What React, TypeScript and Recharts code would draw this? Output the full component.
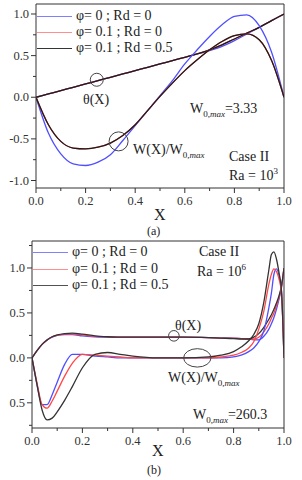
import React from 'react';
import { LineChart, Line, XAxis, YAxis, ReferenceLine, ReferenceDot } from 'recharts';

const serif = '"Liberation Serif", "Times New Roman", "DejaVu Serif", serif';

const legendNames = ['φ= 0 ; Rd = 0', 'φ= 0.1 ; Rd = 0', 'φ= 0.1 ; Rd = 0.5'];
const lineColors = ['#4f4fff', '#ff4747', '#1c1c1c'];
const lineColorsB = ['#4f4fff', '#ff4747', '#333333'];

const xTicks = [0, 0.1, 0.2, 0.3, 0.4, 0.5, 0.6, 0.7, 0.8, 0.9, 1.0];
const xMajor = [0, 0.2, 0.4, 0.6, 0.8, 1.0];
const yTicksA = [-1, -0.75, -0.5, -0.25, 0, 0.25, 0.5, 0.75, 1];
const yMajorA = [-1, -0.5, 0, 0.5, 1];
const yTicksB = [-0.75, -0.5, -0.25, 0, 0.25, 0.5, 0.75, 1, 1.25];
const yMajorB = [-0.5, 0, 0.5, 1];

// panel (a), Ra = 10^3
const xA = [0, 0.05, 0.1, 0.15, 0.2, 0.25, 0.3, 0.35, 0.4, 0.45, 0.5, 0.55, 0.6, 0.65, 0.7, 0.75, 0.8, 0.85, 0.9, 0.95, 1.0];
const thetaBlueA = [0, 0.04, 0.08, 0.12, 0.16, 0.2, 0.24, 0.28, 0.32, 0.36, 0.4, 0.44, 0.48, 0.52, 0.56, 0.61, 0.68, 0.76, 0.84, 0.92, 1.0];
const thetaRedA = [0, 0.04, 0.08, 0.12, 0.16, 0.2, 0.24, 0.28, 0.32, 0.36, 0.4, 0.44, 0.48, 0.52, 0.57, 0.63, 0.7, 0.77, 0.84, 0.92, 1.0];
const thetaBlackA = [0, 0.04, 0.08, 0.12, 0.16, 0.2, 0.24, 0.28, 0.32, 0.36, 0.4, 0.44, 0.48, 0.52, 0.57, 0.63, 0.7, 0.77, 0.84, 0.92, 1.0];
const wBlueA = [0, -0.43, -0.68, -0.8, -0.82, -0.78, -0.69, -0.52, -0.34, -0.16, 0.02, 0.2, 0.4, 0.57, 0.73, 0.87, 0.97, 0.99, 0.86, 0.54, 0];
const wRedA = [0, -0.33, -0.53, -0.61, -0.62, -0.6, -0.55, -0.46, -0.33, -0.16, 0.01, 0.17, 0.32, 0.45, 0.57, 0.67, 0.74, 0.76, 0.69, 0.44, 0];
const wBlackA = [0, -0.33, -0.53, -0.61, -0.62, -0.6, -0.55, -0.46, -0.33, -0.16, 0.01, 0.17, 0.32, 0.45, 0.57, 0.67, 0.74, 0.76, 0.69, 0.44, 0];

// panel (b), Ra = 10^6
const xB = [0, 0.02, 0.04, 0.06, 0.08, 0.1, 0.13, 0.16, 0.2, 0.25, 0.3, 0.35, 0.4, 0.5, 0.6, 0.7, 0.75, 0.8, 0.83, 0.86, 0.88, 0.9, 0.92, 0.94, 0.95, 0.96, 0.97, 0.98, 0.99, 1.0];
const thetaBlueB = [0, 0.08, 0.15, 0.2, 0.23, 0.25, 0.26, 0.26, 0.245, 0.235, 0.23, 0.23, 0.23, 0.23, 0.23, 0.225, 0.22, 0.22, 0.215, 0.21, 0.2, 0.2, 0.24, 0.32, 0.38, 0.45, 0.54, 0.65, 0.78, 1.0];
const thetaRedB = [0, 0.08, 0.15, 0.2, 0.235, 0.25, 0.265, 0.265, 0.255, 0.24, 0.235, 0.23, 0.23, 0.23, 0.23, 0.225, 0.22, 0.22, 0.215, 0.21, 0.21, 0.23, 0.29, 0.38, 0.44, 0.5, 0.58, 0.67, 0.79, 1.0];
const thetaBlackB = [0, 0.08, 0.15, 0.2, 0.235, 0.255, 0.27, 0.275, 0.265, 0.245, 0.235, 0.23, 0.23, 0.23, 0.23, 0.225, 0.22, 0.215, 0.21, 0.21, 0.23, 0.27, 0.34, 0.43, 0.48, 0.54, 0.61, 0.69, 0.8, 1.0];
const wBlueB = [0, -0.3, -0.52, -0.52, -0.41, -0.27, -0.07, 0.04, 0.04, 0.02, 0.01, 0, 0, 0, 0, 0, 0, 0.01, 0.03, 0.07, 0.11, 0.18, 0.3, 0.56, 0.72, 0.93, 0.99, 0.92, 0.74, 0];
const wRedB = [0, -0.28, -0.52, -0.56, -0.48, -0.37, -0.2, -0.06, 0.04, 0.03, 0.02, 0.01, 0, 0, 0, 0, 0.01, 0.03, 0.06, 0.11, 0.18, 0.32, 0.52, 0.82, 0.93, 0.99, 0.96, 0.88, 0.72, 0];
const wBlackB = [0, -0.3, -0.58, -0.69, -0.67, -0.6, -0.47, -0.32, -0.11, 0.04, 0.06, 0.04, 0.02, 0, 0, 0.01, 0.03, 0.07, 0.12, 0.19, 0.26, 0.38, 0.62, 0.98, 1.15, 1.18, 1.1, 0.95, 0.75, 0];

const dataA = xA.map((x, i) => ({
  x, tB: thetaBlueA[i], tR: thetaRedA[i], tK: thetaBlackA[i], wB: wBlueA[i], wR: wRedA[i], wK: wBlackA[i],
}));
const dataB = xB.map((x, i) => ({
  x, tB: thetaBlueB[i], tR: thetaRedB[i], tK: thetaBlackB[i], wB: wBlueB[i], wR: wRedB[i], wK: wBlackB[i],
}));

const near = (list: number[], v: number) => list.some((m) => Math.abs(m - v) < 1e-6);

const makeXTick = (props: any) => {
  const { x, y, payload } = props;
  const major = near(xMajor, payload.value);
  return (
    <g>
      <line x1={x} x2={x} y1={y} y2={y + (major ? 5 : 3)} stroke="#333" />
      {major && (
        <text x={x} y={y + 17} textAnchor="middle" fontSize={12.5} fontFamily={serif} fill="#333">
          {payload.value.toFixed(1)}
        </text>
      )}
    </g>
  );
};

const makeYTick = (majors: number[], fmt: (v: number) => string) => (props: any) => {
  const { x, y, payload } = props;
  const major = near(majors, payload.value);
  return (
    <g>
      <line x1={x - (major ? 5 : 3)} x2={x} y1={y} y2={y} stroke="#333" />
      {major && (
        <text x={x - 7} y={y + 4} textAnchor="end" fontSize={12.5} fontFamily={serif} fill="#333">
          {fmt(payload.value)}
        </text>
      )}
    </g>
  );
};

const Note = ({ left, cy, size = 14, children }: any) => (
  <div
    style={{
      position: 'absolute', left, top: cy, transform: 'translateY(-50%)', fontFamily: serif,
      fontSize: size, lineHeight: 1, color: '#222', whiteSpace: 'nowrap',
    }}
  >
    {children}
  </div>
);

const W0 = () => (
  <>
    W<span style={{ fontSize: 9, position: 'relative', top: 4 }}>0,<i>max</i></span>
  </>
);

const Legend = ({ left, top, gap, colors }: any) => (
  <>
    {legendNames.map((name, i) => (
      <div key={name} style={{ position: 'absolute', left, top: top + i * gap, height: 0 }}>
        <div style={{ position: 'absolute', left: 0, top: 0, width: 35, borderTop: `1.5px solid ${colors[i]}`, opacity: 0.85 }} />
        <div style={{ position: 'absolute', left: 39, top: -8, fontFamily: serif, fontSize: 14, lineHeight: '16px', color: '#222', whiteSpace: 'nowrap' }}>
          {name}
        </div>
      </div>
    ))}
  </>
);

const series = (colors: string[]) =>
  [
    ['tB', 0], ['tR', 1], ['tK', 2], ['wB', 0], ['wR', 1], ['wK', 2],
  ].map(([key, c]) => (
    <Line
      key={key as string}
      type="monotone"
      dataKey={key as string}
      stroke={colors[c as number]}
      strokeWidth={1.3}
      dot={false}
      isAnimationActive={false}
    />
  ));

const domainA: [number, number] = [-1.09, 1.12];
const domainB: [number, number] = [-0.78, 1.3];

export default function App() {
  return (
    <div style={{ position: 'absolute', left: 0, top: 0, width: 302, height: 480, background: '#fff' }}>
      <div style={{ position: 'absolute', left: 0, top: 0 }}>
        <LineChart width={302} height={240} data={dataA} margin={{ top: 4, right: 18, bottom: 0, left: 0 }}>
          <XAxis type="number" dataKey="x" domain={[0, 1]} ticks={xTicks} interval={0} height={52}
            tickSize={0} tickMargin={0} tickLine={false} tick={makeXTick} axisLine={{ stroke: '#333' }} allowDataOverflow />
          <YAxis type="number" domain={domainA} ticks={yTicksA} interval={0} width={36} allowDataOverflow
            tickSize={0} tickMargin={0} tickLine={false} tick={makeYTick(yMajorA, (v) => v.toFixed(1))} axisLine={{ stroke: '#333' }} />
          <ReferenceLine x={1} stroke="#333" />
          <ReferenceLine y={domainA[1]} stroke="#333" />
          {series(lineColors)}
          <ReferenceDot x={0.245} y={0.21} r={6.5} fill="none" stroke="#444" />
          <ReferenceDot x={0.333} y={-0.53} r={9.5} fill="none" stroke="#444" />
        </LineChart>
      </div>
      <div style={{ position: 'absolute', left: 0, top: 240 }}>
        <LineChart width={302} height={240} data={dataB} margin={{ top: 1, right: 18, bottom: 0, left: 0 }}>
          <XAxis type="number" dataKey="x" domain={[0, 1]} ticks={xTicks} interval={0} height={52}
            tickSize={0} tickMargin={0} tickLine={false} tick={makeXTick} axisLine={{ stroke: '#333' }} allowDataOverflow />
          <YAxis type="number" domain={domainB} ticks={yTicksB} interval={0} width={32} allowDataOverflow
            tickSize={0} tickMargin={0} tickLine={false} tick={makeYTick(yMajorB, (v) => Math.abs(v).toFixed(1))} axisLine={{ stroke: '#333' }} />
          <ReferenceLine x={1} stroke="#333" />
          <ReferenceLine y={domainB[1]} stroke="#333" />
          {series(lineColorsB)}
          <ReferenceDot x={0.563} y={0.245} r={5.3} fill="none" stroke="#444" />
          <ReferenceDot x={0.656} y={0} r={5} fill="none" stroke="#444"
            shape={(p: any) => <ellipse cx={p.cx} cy={p.cy} rx={13.7} ry={9.2} fill="none" stroke="#444" />} />
        </LineChart>
      </div>

      <Legend left={37} top={16} gap={16} colors={['#6a6aff', '#ff7a7a', '#111']} />
      <Legend left={33} top={252} gap={16.5} colors={['#6a6aff', '#ff7a7a', '#333']} />

      <Note left={83} cy={100}>θ(X)</Note>
      <Note left={133} cy={150}>W(X)/<W0 /></Note>
      <Note left={190} cy={109}><W0 />=3.33</Note>
      <Note left={229} cy={157}>Case II</Note>
      <Note left={229} cy={175}>Ra = 10<sup style={{ fontSize: 9, verticalAlign: 6 }}>3</sup></Note>
      <Note left={154} cy={215} size={16}>X</Note>
      <Note left={147} cy={231} size={12}>(a)</Note>

      <Note left={199} cy={252}>Case II</Note>
      <Note left={197} cy={271}>Ra = 10<sup style={{ fontSize: 9, verticalAlign: 6 }}>6</sup></Note>
      <Note left={175} cy={326}>θ(X)</Note>
      <Note left={168} cy={378}>W(X)/<W0 /></Note>
      <Note left={193} cy={415}><W0 />=260.3</Note>
      <Note left={152} cy={451} size={16}>X</Note>
      <Note left={147} cy={470} size={12}>(b)</Note>
    </div>
  );
}
